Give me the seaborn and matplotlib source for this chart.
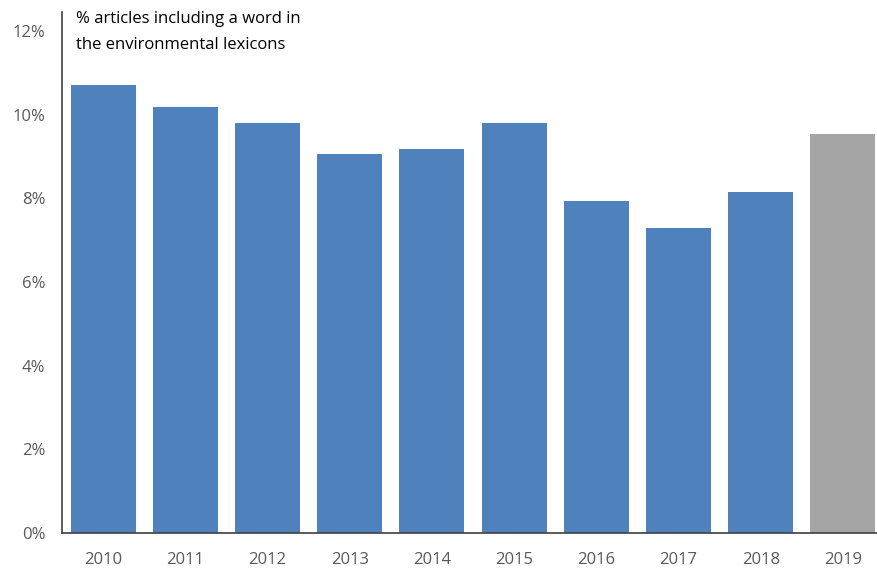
import matplotlib
matplotlib.use("Agg")
import matplotlib.pyplot as plt
import seaborn as sns
import pandas as pd
from matplotlib.ticker import FuncFormatter

years = ["2010", "2011", "2012", "2013", "2014", "2015", "2016", "2017", "2018", "2019"]
values = [10.71, 10.18, 9.79, 9.06, 9.18, 9.80, 7.94, 7.29, 8.15, 9.54]
colors = ["#4F81BD"] * 9 + ["#A5A5A5"]

sns.set_theme(style="white")
plt.rcParams["font.family"] = ["Open Sans", "DejaVu Sans"]

df = pd.DataFrame({"year": years, "value": values})

fig = plt.figure(figsize=(8.77, 5.70), dpi=100)
ax = fig.add_axes([62 / 877, 37 / 570, 822 / 877, 521 / 570])
sns.barplot(data=df, x="year", y="value", hue="year", palette=colors,
            width=0.79, legend=False, ax=ax, saturation=1, linewidth=0)

ax.set_xlim(-0.5, 9.5)
ax.set_ylim(0, 12.45)
ax.set_yticks([0, 2, 4, 6, 8, 10, 12])
ax.yaxis.set_major_formatter(FuncFormatter(lambda v, p: f"{int(v)}%"))
ax.set_xlabel("")
ax.set_ylabel("")
for s in ["top", "right"]:
    ax.spines[s].set_visible(False)
for s in ["left", "bottom"]:
    ax.spines[s].set_color("#404040")
    ax.spines[s].set_linewidth(1.2)
ax.tick_params(axis="both", colors="#595959", labelsize=12, length=0)
ax.tick_params(axis="y", pad=12)
ax.tick_params(axis="x", pad=14)
ax.text(0.017, 1.002, "% articles including a word in\nthe environmental lexicons",
        transform=ax.transAxes, ha="left", va="top", fontsize=12,
        color="black", linespacing=1.8)

fig.savefig("out.png", dpi=100)
